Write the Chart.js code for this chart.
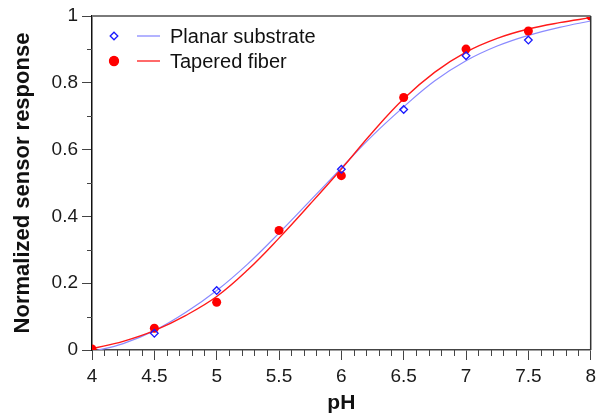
<!DOCTYPE html>
<html>
<head>
<meta charset="utf-8">
<script src="https://cdn.jsdelivr.net/npm/chart.js@4/dist/chart.umd.min.js"></script>
<style>
  html, body { margin: 0; padding: 0; background: #fff; }
  #wrap { width: 596px; height: 418px; }
</style>
</head>
<body>
<div id="wrap"><canvas id="phChart" width="596" height="418"></canvas></div>
<script>
// measured points
const planarPH = [4.5, 5, 6, 6.5, 7, 7.5];
const planarResp = [0.05, 0.178, 0.541, 0.72, 0.881, 0.928];
const taperedPH = [4, 4.5, 5, 5.5, 6, 6.5, 7, 7.5, 8];
const taperedResp = [0.003, 0.065, 0.143, 0.358, 0.522, 0.756, 0.901, 0.955, 1.0];

// fitted curves
const fitPH = [4, 4.25, 4.5, 4.75, 5, 5.25, 5.5, 5.75, 6, 6.25, 6.5, 6.75, 7, 7.25, 7.5, 7.75, 8];
const planarFit = [-0.005, 0.019, 0.058, 0.112, 0.178, 0.258, 0.35, 0.447, 0.545, 0.642, 0.728, 0.806, 0.866, 0.91, 0.942, 0.966, 0.985];
const taperedFit = [0.004, 0.026, 0.058, 0.103, 0.16, 0.24, 0.335, 0.437, 0.542, 0.652, 0.752, 0.832, 0.892, 0.933, 0.961, 0.98, 0.995];

const xTicks = [4, 4.5, 5, 5.5, 6, 6.5, 7, 7.5, 8];
const yTicks = [0, 0.2, 0.4, 0.6, 0.8, 1];

const legendItems = [
    { label: 'Planar substrate', style: 'rectRot', pointColor: '#1a1aff', fill: false, lineColor: '#8a8aff' },
    { label: 'Tapered fiber', style: 'circle', pointColor: '#ff0000', fill: true, lineColor: '#ff1a1a' }
];

function toXY(xs, ys) {
    return xs.map((x, i) => ({ x: x, y: ys[i] }));
}

// minor ticks, frame and legend
const decorPlugin = {
    id: 'decor',
    afterDraw(chart) {
        const ctx = chart.ctx;
        const area = chart.chartArea;
        const xs = chart.scales.x, ys = chart.scales.y;
        ctx.save();
        // frame top / right
        ctx.strokeStyle = '#7a7a7a';
        ctx.lineWidth = 2;
        ctx.beginPath();
        ctx.moveTo(area.left, area.top);
        ctx.lineTo(area.right, area.top);
        ctx.stroke();
        ctx.strokeStyle = '#333';
        ctx.lineWidth = 1.5;
        ctx.beginPath();
        ctx.moveTo(area.right, area.top);
        ctx.lineTo(area.right, area.bottom);
        ctx.stroke();

        // minor ticks
        ctx.strokeStyle = '#444';
        ctx.lineWidth = 1;
        ctx.beginPath();
        for (let i = 1; i < 40; i++) {
            if (i % 5 === 0) continue;
            const px = Math.round(xs.getPixelForValue(4 + i / 10)) + 0.5;
            ctx.moveTo(px, area.bottom);
            ctx.lineTo(px, area.bottom + 6);
        }
        for (let i = 1; i < 10; i += 2) {
            const py = Math.round(ys.getPixelForValue(i / 10)) + 0.5;
            ctx.moveTo(area.left - 5, py);
            ctx.lineTo(area.left, py);
        }
        ctx.stroke();

        // legend
        ctx.font = '20px "Liberation Sans", Arial, sans-serif';
        ctx.textBaseline = 'middle';
        ctx.fillStyle = '#111';
        legendItems.forEach((item, i) => {
            const y = area.top + 20 + i * 25;
            const x0 = area.left + 22;
            ctx.strokeStyle = item.lineColor;
            ctx.lineWidth = 1.3;
            ctx.beginPath();
            ctx.moveTo(x0 + 23, y);
            ctx.lineTo(x0 + 46, y);
            ctx.stroke();
            ctx.strokeStyle = item.pointColor;
            ctx.fillStyle = item.fill ? item.pointColor : 'rgba(0,0,0,0)';
            ctx.lineWidth = 1.3;
            Chart.helpers.drawPoint(ctx, { pointStyle: item.style, radius: item.fill ? 4.5 : 3.8, rotation: 0, borderWidth: 1.3 }, x0, y);
            if (item.fill) ctx.fill();
            ctx.fillStyle = '#111';
            ctx.fillText(item.label, x0 + 56, y + 1);
        });
        ctx.restore();
    }
};

const ctx = document.getElementById('phChart').getContext('2d');
new Chart(ctx, {
    type: 'scatter',
    data: {
        datasets: [
            {
                label: 'Planar substrate fit',
                type: 'line',
                data: toXY(fitPH, planarFit),
                borderColor: '#8a8aff',
                borderWidth: 1.2,
                pointRadius: 0,
                fill: false,
                tension: 0.4,
                clip: 0,
                order: 4
            },
            {
                label: 'Tapered fiber fit',
                type: 'line',
                data: toXY(fitPH, taperedFit),
                borderColor: '#ff1a1a',
                borderWidth: 1.4,
                pointRadius: 0,
                fill: false,
                tension: 0.4,
                clip: 0,
                order: 3
            },
            {
                label: 'Tapered fiber',
                data: toXY(taperedPH, taperedResp),
                pointStyle: 'circle',
                pointRadius: 4.5,
                backgroundColor: '#ff0000',
                borderColor: '#ff0000',
                borderWidth: 0,
                clip: 0,
                order: 2
            },
            {
                label: 'Planar substrate',
                data: toXY(planarPH, planarResp),
                pointStyle: 'rectRot',
                pointRadius: 3.8,
                backgroundColor: 'rgba(255,255,255,0)',
                borderColor: '#1a1aff',
                borderWidth: 1.3,
                clip: 0,
                order: 1
            }
        ]
    },
    options: {
        responsive: false,
        devicePixelRatio: 1,
        animation: false,
        events: [],
        layout: { padding: { left: 0, right: 4, top: 16, bottom: 0 } },
        plugins: {
            legend: { display: false },
            tooltip: { enabled: false }
        },
        scales: {
            x: {
                type: 'linear',
                min: 4,
                max: 8,
                afterBuildTicks(scale) {
                    scale.ticks = xTicks.map(v => ({ value: v }));
                },
                afterFit(scale) {
                    scale.height = 68;
                    scale.paddingLeft = 0;
                    scale.paddingRight = 0;
                },
                ticks: {
                    color: '#1a1a1a',
                    font: { family: '"Liberation Sans", Arial, sans-serif', size: 19 },
                    padding: 5,
                    maxRotation: 0,
                    autoSkip: false,
                    callback: v => String(v)
                },
                grid: {
                    drawOnChartArea: false,
                    tickLength: 10,
                    tickColor: '#444',
                    tickWidth: 1
                },
                border: { color: '#444', width: 1.5 },
                title: {
                    display: true,
                    text: 'pH',
                    color: '#111',
                    font: { family: '"Liberation Sans", Arial, sans-serif', size: 21, weight: 'bold' },
                    padding: { top: 0, bottom: 2 }
                }
            },
            y: {
                type: 'linear',
                min: 0,
                max: 1,
                afterBuildTicks(scale) {
                    scale.ticks = yTicks.map(v => ({ value: v }));
                },
                afterFit(scale) {
                    scale.width = 92;
                    scale.paddingTop = 0;
                    scale.paddingBottom = 0;
                },
                ticks: {
                    color: '#1a1a1a',
                    font: { family: '"Liberation Sans", Arial, sans-serif', size: 19 },
                    padding: 4,
                    callback: v => String(v)
                },
                grid: {
                    drawOnChartArea: false,
                    tickLength: 10,
                    tickColor: '#444',
                    tickWidth: 1
                },
                border: { color: '#111', width: 1.5 },
                title: {
                    display: true,
                    text: 'Normalized sensor response',
                    color: '#111',
                    font: { family: '"Liberation Sans", Arial, sans-serif', size: 22, weight: 'bold' },
                    padding: { top: 10, bottom: 0 }
                }
            }
        }
    },
    plugins: [decorPlugin]
});
</script>
</body>
</html>
